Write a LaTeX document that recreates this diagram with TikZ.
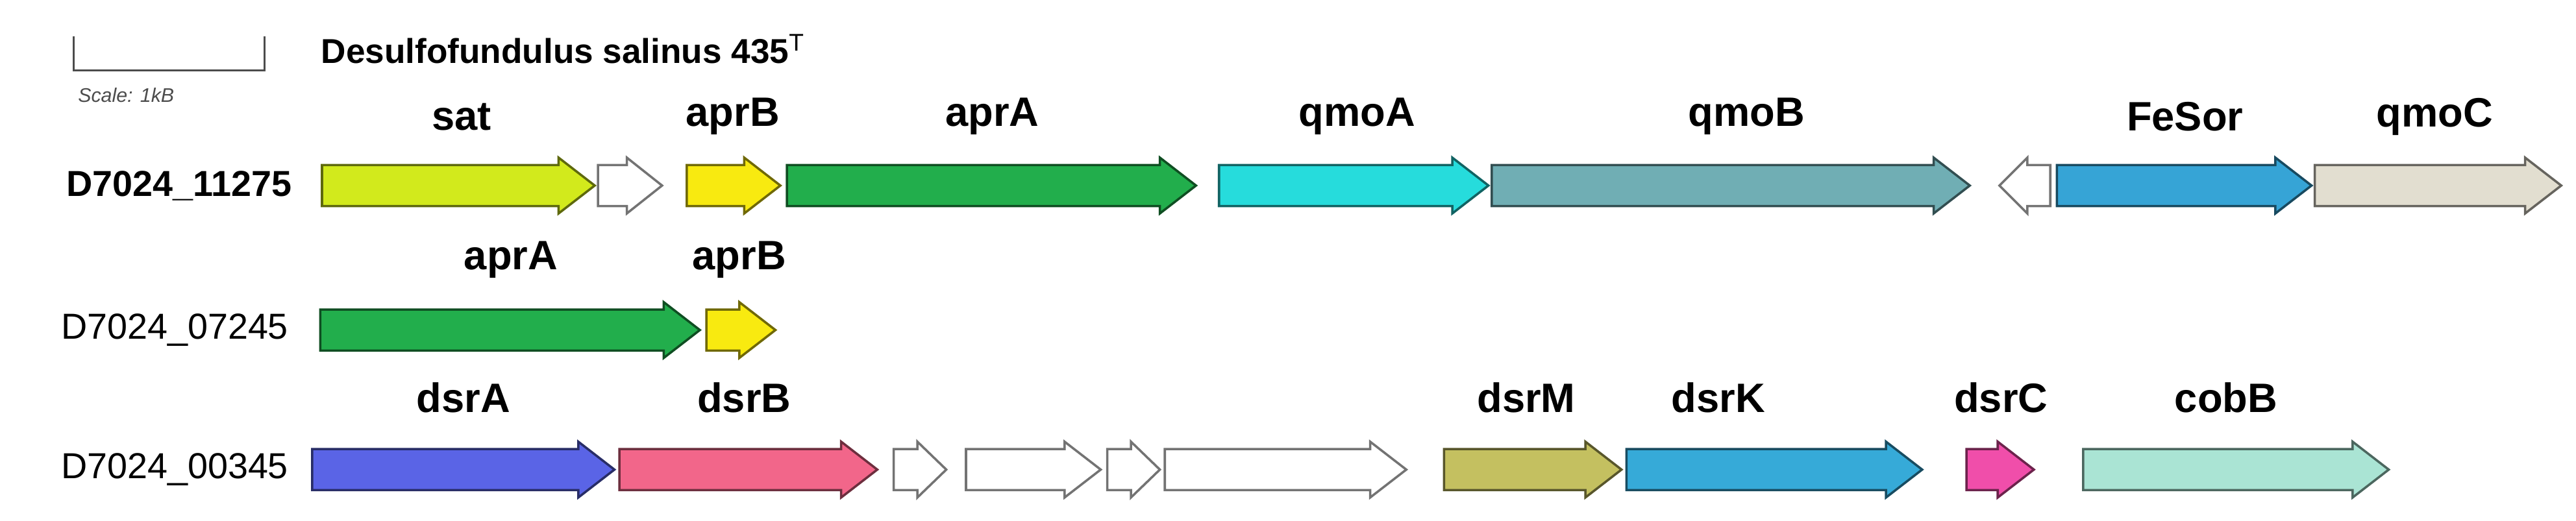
\documentclass[tikz,border=0pt]{standalone}
\usepackage{fontspec}
\setmainfont{Liberation Sans}
\usetikzlibrary{calc}

\definecolor{satcol}{HTML}{D2EA1C}
\definecolor{aprBcol}{HTML}{F8EA10}
\definecolor{aprAcol}{HTML}{22AE4C}
\definecolor{qmoAcol}{HTML}{26DCDC}
\definecolor{qmoBcol}{HTML}{70AEB4}
\definecolor{fesorcol}{HTML}{36A4D6}
\definecolor{qmoCcol}{HTML}{E2DED0}
\definecolor{dsrAcol}{HTML}{5A64E6}
\definecolor{dsrBcol}{HTML}{F2668A}
\definecolor{dsrMcol}{HTML}{C4C060}
\definecolor{dsrKcol}{HTML}{36AAD8}
\definecolor{dsrCcol}{HTML}{F04EAA}
\definecolor{cobBcol}{HTML}{AAE4D4}

% gene arrow: fill colour, start x, end x, row y
\newcommand{\gene}[4]{%
  \pgfmathsetmacro{\glen}{abs(#3-#2)}%
  \pgfmathsetmacro{\ghead}{min(22,0.55*\glen)*sign(#3-#2)}%
  \draw[genebox, fill=#1, draw=#1!45!black]
    (#2,#4+12.5) -- ({#3-\ghead},#4+12.5) -- ({#3-\ghead},#4+17) -- (#3,#4)
    -- ({#3-\ghead},#4-17) -- ({#3-\ghead},#4-12.5) -- (#2,#4-12.5) -- cycle;}

\begin{document}
\begin{tikzpicture}[x=1pt, y=-1pt,
    genebox/.style={line width=1.4pt, line join=miter},
    genename/.style={font=\fontsize{25}{25}\selectfont\bfseries},
    rowname/.style={font=\fontsize{22}{22}\selectfont, anchor=east}
]
\useasboundingbox (0,0) rectangle (1568,317);

% ==== Header ====
\draw[line width=1.2pt, draw=black!70] (45,22) -- (45,43) -- (161,43) -- (161,22);
\node[font=\fontsize{12}{12}\selectfont\itshape, text=black!70, anchor=west] (scale) at (44,58) {Scale: 1kB};
\node[font=\fontsize{21}{21}\selectfont\bfseries, anchor=west] (title) at (192,30) {Desulfofundulus salinus 435$^{\mathrm{T}}$};

% ==== Row 1 ====
\node[rowname, font=\fontsize{22}{22}\selectfont\bfseries] (row1) at (181,113) {D7024\_11275};
\gene{satcol}{196}{362}{113}
\gene{white}{364}{403}{113}
\gene{aprBcol}{418}{475}{113}
\gene{aprAcol}{479}{728}{113}
\gene{qmoAcol}{742}{906}{113}
\gene{qmoBcol}{908}{1199}{113}
\gene{white}{1248}{1217}{113}
\gene{fesorcol}{1252}{1407}{113}
\gene{qmoCcol}{1409}{1559}{113}
\node[genename] (sat) at (281,71) {sat};
\node[genename] (aprB1) at (446,71) {aprB};
\node[genename] (aprA1) at (604,71) {aprA};
\node[genename] (qmoA) at (826,71) {qmoA};
\node[genename] (qmoB) at (1063,71) {qmoB};
\node[genename] (fesor) at (1330,71) {FeSor};
\node[genename] (qmoC) at (1482,71) {qmoC};

% ==== Row 2 ====
\node[rowname] (row2) at (179,201) {D7024\_07245};
\gene{aprAcol}{195}{426}{201}
\gene{aprBcol}{430}{472}{201}
\node[genename] (aprA2) at (311,158) {aprA};
\node[genename] (aprB2) at (450,158) {aprB};

% ==== Row 3 ====
\node[rowname] (row3) at (179,286) {D7024\_00345};
\gene{dsrAcol}{190}{374}{286}
\gene{dsrBcol}{377}{534}{286}
\gene{white}{544}{576}{286}
\gene{white}{588}{670}{286}
\gene{white}{674}{706}{286}
\gene{white}{709}{856}{286}
\gene{dsrMcol}{879}{987}{286}
\gene{dsrKcol}{990}{1170}{286}
\gene{dsrCcol}{1197}{1238}{286}
\gene{cobBcol}{1268}{1454}{286}
\node[genename] (dsrA) at (282,242) {dsrA};
\node[genename] (dsrB) at (453,242) {dsrB};
\node[genename] (dsrM) at (929,242) {dsrM};
\node[genename] (dsrK) at (1046,242) {dsrK};
\node[genename] (dsrC) at (1218,242) {dsrC};
\node[genename] (cobB) at (1355,242) {cobB};

\end{tikzpicture}
\end{document}
